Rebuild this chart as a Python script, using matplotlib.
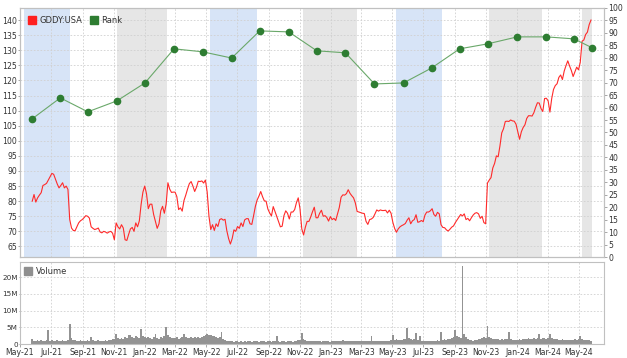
import numpy as np
import pandas as pd
import matplotlib
matplotlib.use("Agg")
import matplotlib.pyplot as plt
import matplotlib.dates as mdates
from matplotlib.lines import Line2D
from matplotlib.ticker import FuncFormatter

# Price (GDDY:USA), sampled about twice a week starting 2021-05-25
price = [
    80.0, 82.2, 79.7, 81.1, 82.0, 82.8, 85.2, 85.5, 85.9, 87.0,
    88.1, 89.2, 88.9, 87.3, 85.7, 84.4, 85.2, 86.1, 84.4, 85.0,
    83.9, 73.9, 71.1, 70.3, 70.2, 71.5, 72.8, 73.5, 73.9, 74.5,
    75.2, 75.0, 74.4, 71.5, 71.0, 70.6, 70.8, 71.1, 69.8, 69.5,
    70.0, 69.8, 69.4, 69.8, 70.0, 69.4, 67.2, 72.8, 71.5, 70.8,
    72.2, 71.1, 67.2, 67.0, 69.0, 70.8, 71.3, 70.0, 72.8, 71.5,
    73.5, 79.0, 83.0, 85.0, 82.5, 77.5, 79.0, 79.0, 75.6, 73.3,
    71.0, 72.5, 76.8, 78.3, 76.0, 79.0, 86.1, 84.0, 82.9, 83.0,
    83.0, 81.5, 77.2, 77.8, 76.7, 80.2, 82.0, 84.0, 85.8, 86.5,
    85.0, 83.2, 84.6, 86.6, 86.5, 86.7, 86.0, 87.0, 83.0, 75.0,
    70.6, 72.2, 70.3, 72.5, 71.6, 73.9, 74.2, 73.7, 74.0, 70.2,
    67.6, 65.8, 67.6, 70.5, 70.0, 71.6, 71.0, 72.8, 71.6, 73.8,
    74.2, 74.2, 72.5, 72.3, 75.2, 78.3, 80.4, 81.7, 83.2, 81.5,
    80.1, 80.0, 77.4, 76.1, 75.1, 78.2, 76.6, 74.9, 73.2, 71.5,
    71.7, 75.2, 76.8, 76.0, 74.1, 76.4, 76.4, 77.2, 79.5, 81.1,
    77.5, 70.8, 68.8, 71.4, 73.3, 73.3, 74.8, 76.5, 78.0, 74.5,
    74.5, 76.0, 77.0, 75.0, 75.2, 74.6, 73.4, 74.9, 73.9, 74.3,
    73.6, 75.7, 77.9, 81.3, 82.1, 82.0, 82.5, 83.8, 82.6, 81.8,
    81.1, 79.4, 76.6, 76.4, 76.2, 76.0, 75.9, 73.3, 72.3, 73.9,
    74.1, 74.6, 75.8, 77.1, 76.7, 77.1, 76.9, 76.9, 77.0, 76.1,
    77.0, 76.0, 73.0, 71.0, 69.7, 70.8, 71.5, 71.9, 72.2, 72.6,
    73.7, 74.5, 72.5, 73.5, 73.9, 75.5, 73.0, 73.2, 73.6, 73.2,
    75.4, 76.4, 76.4, 76.8, 77.5, 75.6, 75.0, 76.3, 75.8, 72.2,
    71.3, 71.2, 70.5, 70.1, 70.7, 71.4, 71.8, 72.9, 73.8, 74.7,
    75.6, 75.1, 75.8, 73.9, 74.3, 73.5, 74.5, 75.4, 76.0, 76.2,
    75.8, 74.3, 75.0, 72.9, 72.5, 86.0, 87.0, 87.8, 91.0, 92.5,
    95.0, 94.7, 98.3, 102.6, 104.0, 106.4, 106.5, 106.4, 106.9, 106.6,
    106.5, 105.5, 103.0, 100.5, 103.0, 104.4, 105.3, 107.4, 108.3, 108.3,
    108.2, 109.3, 111.1, 112.6, 112.5, 110.7, 109.7, 114.0, 114.1, 113.2,
    109.5, 114.0, 117.0, 118.3, 118.9, 121.0, 121.8, 120.3, 123.1, 124.9,
    126.5, 124.8, 123.3, 121.3, 122.8, 124.4, 123.5, 126.0, 133.0, 133.4,
    135.2, 136.0, 138.5, 140.0,
]

# Volume in millions, same dates as price
volume = [
    1.4, 0.9, 1.0, 1.1, 0.8, 1.2, 0.9, 1.0, 1.3, 4.1,
    1.0, 1.1, 0.8, 0.9, 1.2, 1.0, 0.9, 1.1, 0.8, 1.0,
    1.2, 5.9, 1.8, 1.3, 1.1, 1.0, 0.9, 1.2, 1.0, 0.8,
    0.9, 1.1, 1.0, 2.0, 1.2, 0.9, 1.0, 1.1, 0.8, 1.0,
    1.0, 1.2, 0.9, 1.3, 1.1, 1.4, 1.6, 3.1, 1.8, 1.5,
    1.7, 1.5, 2.0, 1.8, 2.6, 2.8, 2.2, 1.9, 2.4, 2.0,
    1.8, 4.6, 2.5, 2.0, 1.7, 2.2, 1.9, 1.6, 2.0, 3.1,
    1.8, 1.6, 2.1, 1.9, 2.3, 5.1, 2.6, 2.0, 1.8, 1.7,
    1.9, 2.2, 1.6, 1.8, 2.0, 3.1, 2.1, 1.7, 1.9, 2.2,
    1.8, 2.0, 1.7, 2.1, 1.9, 2.2, 2.4, 2.7, 2.9, 2.6,
    2.8, 2.5, 2.3, 2.0, 1.8, 2.1, 3.6, 1.5, 1.2, 1.0,
    0.9, 0.8, 1.0, 0.7, 0.8, 0.9, 0.7, 0.8, 0.6, 0.8,
    0.7, 0.9, 0.8, 0.7, 0.9, 1.0, 0.8, 0.7, 0.8, 0.9,
    0.8, 0.7, 0.9, 0.8, 0.7, 0.8, 0.9, 2.4, 0.8, 0.7,
    0.8, 0.9, 0.7, 0.8, 0.9, 0.8, 0.7, 0.9, 1.0, 1.1,
    1.2, 3.3, 1.6, 1.2, 1.0, 0.9, 0.8, 0.9, 0.8, 1.0,
    0.9, 0.8, 0.7, 0.9, 0.8, 1.0, 0.8, 0.7, 0.9, 0.8,
    0.9, 0.8, 1.0, 0.9, 1.1, 1.0, 0.9, 0.8, 0.9, 1.0,
    0.9, 0.8, 0.9, 1.0, 0.8, 0.9, 0.8, 0.9, 1.0, 0.9,
    2.4, 0.9, 1.0, 0.8, 0.9, 1.0, 0.8, 0.9, 1.0, 0.9,
    1.0, 1.1, 2.8, 1.3, 1.5, 1.2, 1.1, 1.3, 1.4, 1.6,
    4.8, 1.7, 1.5, 1.3, 1.6, 3.3, 1.2, 2.4, 1.0, 0.9,
    1.0, 0.8, 0.9, 1.0, 0.8, 0.9, 1.0, 1.1, 0.9, 3.6,
    1.2, 1.4, 1.3, 1.5, 1.6, 1.8, 2.2, 4.3, 2.5, 2.0,
    1.8, 23.4, 3.1, 2.0, 1.5, 1.3, 1.1, 1.0, 1.2, 1.3,
    1.4, 1.6, 1.8, 2.0, 1.7, 5.3, 2.2, 1.8, 1.5, 1.6,
    1.4, 1.5, 1.3, 1.6, 1.2, 1.4, 1.5, 3.5, 1.6, 1.3,
    1.2, 1.1, 1.3, 1.4, 1.2, 1.5, 1.6, 1.4, 1.7, 1.5,
    1.6, 1.8, 1.5, 1.7, 3.1, 1.6, 1.9, 1.7, 1.5, 1.8,
    2.9, 1.7, 1.5, 1.6, 1.4, 1.3, 1.2, 1.4, 1.3, 1.2,
    1.3, 1.2, 1.1, 1.3, 1.4, 1.2, 1.5, 2.4, 1.6, 1.3,
    1.2, 1.1, 1.3, 1.0,
]

# Rank points (right axis)
rank_dates = [
    "2021-05-25", "2021-07-19", "2021-09-11", "2021-11-07", "2022-01-01",
    "2022-02-27", "2022-04-24", "2022-06-20", "2022-08-14", "2022-10-10",
    "2022-12-04", "2023-01-29", "2023-03-27", "2023-05-23", "2023-07-17",
    "2023-09-10", "2023-11-04", "2024-01-01", "2024-02-27", "2024-04-21",
    "2024-05-27",
]
rank = [
    55.5, 63.9, 58.3, 62.7, 69.9, 83.6, 82.4, 79.9, 90.8, 90.4,
    82.8, 82.0, 69.5, 69.9, 75.9, 83.6, 85.6, 88.4, 88.4, 87.6, 84.0,
]

# Shaded periods
blue_bands = [("2021-05-09", "2021-08-07"), ("2022-05-09", "2022-08-08"),
              ("2023-05-08", "2023-08-06")]
gray_bands = [("2021-11-07", "2022-02-13"), ("2022-11-06", "2023-02-20"),
              ("2023-11-06", "2024-02-18"), ("2024-05-06", "2024-05-26")]

dates = pd.date_range("2021-05-25", periods=len(price), freq="84h")
rank_dates = pd.to_datetime(rank_dates)

plt.rcParams['font.family'] = 'DejaVu Sans'
text_color = '#333333'
spine_color = '#c0c0c0'
grid_kw = dict(color='#d0d0d0', linestyle=(0, (2, 2)), linewidth=0.6)

fig = plt.figure(figsize=(6.27, 3.58), dpi=100)
ax = fig.add_axes([0.0319, 0.2821, 0.9314, 0.6956])
axv = fig.add_axes([0.0319, 0.0391, 0.9314, 0.2291], sharex=ax)
ax2 = ax.twinx()

# Background bands
for s, e in blue_bands:
    ax.axvspan(pd.Timestamp(s), pd.Timestamp(e), color='#d7e4f7', lw=0, zorder=0)
for s, e in gray_bands:
    ax.axvspan(pd.Timestamp(s), pd.Timestamp(e), color='#e6e6e6', lw=0, zorder=0)

# Price line
ax.plot(dates, price, color='#ff2a2a', lw=0.8, zorder=3)
ax.set_ylim(61.5, 144)
ax.set_yticks(np.arange(65, 141, 5))

# Rank line
ax2.plot(rank_dates, rank, color='#6aa86a', lw=0.8, marker='o', ms=4.5,
         mfc='#2e7d32', mec='#2e7d32', zorder=4)
ax2.set_ylim(0, 100)
ax2.set_yticks(np.arange(0, 101, 5))

# Volume bars
axv.bar(dates, volume, width=3.5, color='#939393', lw=0)
axv.set_ylim(0, 24.6)
axv.set_yticks([0, 5, 10, 15, 20])
axv.yaxis.set_major_formatter(FuncFormatter(lambda v, p: '0' if v == 0 else f'{v:g}M'))

# X axis: every 2 months
axv.set_xlim(pd.Timestamp("2021-05-01"), pd.Timestamp("2024-06-19"))
axv.xaxis.set_major_locator(mdates.MonthLocator(bymonth=[1, 3, 5, 7, 9, 11]))
axv.xaxis.set_major_formatter(mdates.DateFormatter('%b-%y'))

for a in (ax, ax2, axv):
    for sp in a.spines.values():
        sp.set_color(spine_color)
        sp.set_linewidth(0.8)
    a.tick_params(labelsize=5.6, colors=text_color, length=2, width=0.6,
                  pad=1.2)
    a.tick_params(axis='both', color='#999999')
ax.tick_params(axis='x', labelbottom=False, length=0)
ax.tick_params(axis='y', length=1.5, pad=0.8)
axv.tick_params(axis='y', labelsize=5.2, length=1, pad=0.6)
ax.grid(True, **grid_kw)
axv.grid(True, **grid_kw)
ax.set_axisbelow(True)
axv.set_axisbelow(True)

# Legends
handles = [Line2D([], [], marker='s', ls='', color='#ff2020', ms=5.5),
           Line2D([], [], marker='s', ls='', color='#2e7d32', ms=5.5)]
ax2.legend(handles, ['GDDY:USA', 'Rank'], loc='upper left', ncol=2,
           frameon=False, fontsize=6, handlelength=0.8, handletextpad=0.5,
           columnspacing=1.0, borderaxespad=0.4, borderpad=0.6,
           labelcolor=text_color)
axv.legend([Line2D([], [], marker='s', ls='', color='#8f8f8f', ms=5.5)],
           ['Volume'], loc='upper left', frameon=False, fontsize=6,
           handlelength=0.8, handletextpad=0.5, borderaxespad=0.2,
           labelcolor=text_color)

fig.savefig('out.png', dpi=100)
